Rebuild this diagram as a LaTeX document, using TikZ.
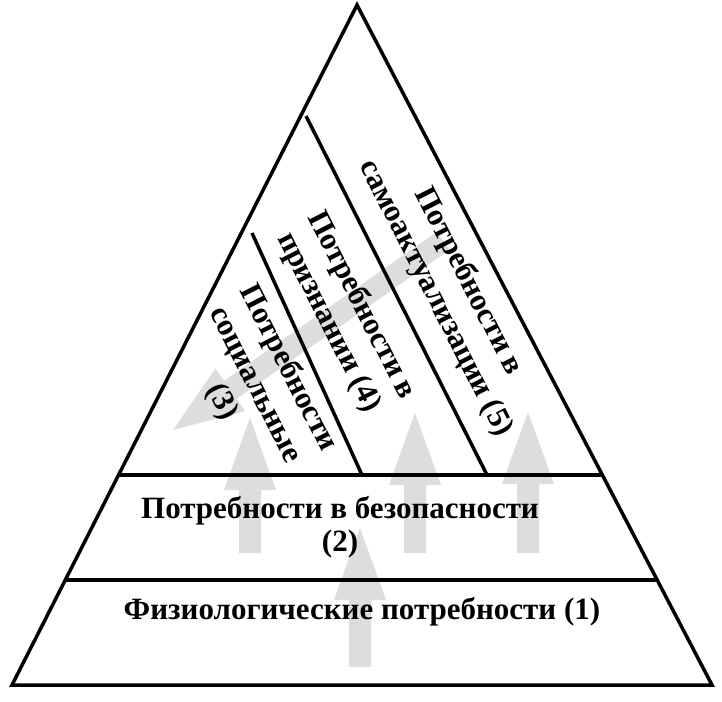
\documentclass[tikz,border=0pt]{standalone}
\usepackage{fontspec}
\setmainfont{Liberation Serif}
\begin{document}
\begin{tikzpicture}[x=1pt,y=-1pt,
  edge/.style={line width=3.5pt,line join=miter},
  garrow/.style={fill=black!18,opacity=0.75,draw=none},
  lbl/.style={font=\bfseries\fontsize{31}{33}\selectfont,align=center,inner sep=0pt},
  rl/.style={font=\bfseries\fontsize{31}{37}\selectfont,align=center,inner sep=0pt,rotate=-63}]
\useasboundingbox (0,0) rectangle (722,701);
\coordinate (A) at (357,5);
\coordinate (L) at (12,685);
\coordinate (R) at (712,685);
\coordinate (h1l) at (119,475); \coordinate (h1r) at (602,475);
\coordinate (h2l) at (65,580);  \coordinate (h2r) at (657,580);
\coordinate (d1a) at (252,233); \coordinate (d1b) at (362,475);
\coordinate (d2a) at (306,116); \coordinate (d2b) at (487,475);
% grey arrows
\foreach \n/\cx/\tip/\bot in {g1/360/528/667, g2/250/418/553, g3/415/413/553, g4/528/412/553}{
  \fill[garrow] (\cx-11,\bot) -- (\cx-11,\tip+72) -- (\cx-26,\tip+72) -- (\cx,\tip) -- (\cx+26,\tip+72) -- (\cx+11,\tip+72) -- (\cx+11,\bot) -- cycle;
}
% diagonal arrow
\fill[garrow,shift={(173,430)},rotate=35] (0,0) -- (70,-26) -- (70,-11) -- (330,-11) -- (330,11) -- (70,11) -- (70,26) -- cycle;
\draw[edge] (A) -- (R) -- (L) -- cycle;
\draw[edge] (h1l) -- (h1r);
\draw[edge] (h2l) -- (h2r);
\draw[edge] (d1a) -- (d1b);
\draw[edge] (d2a) -- (d2b);
\node[lbl] (t1) at (362,612) {Физиологические потребности (1)};
\node[lbl] (t2) at (340,527) {Потребности в безопасности\\(2)};
\node[rl] (t5) at (452,290) {Потребности в\\самоактуализации (5)};
\node[rl] (t4) at (345,314) {Потребности в\\признании (4)};
\node[rl] (t3) at (255,385) {Потребности\\социальные\\(3)};
\end{tikzpicture}
\end{document}
